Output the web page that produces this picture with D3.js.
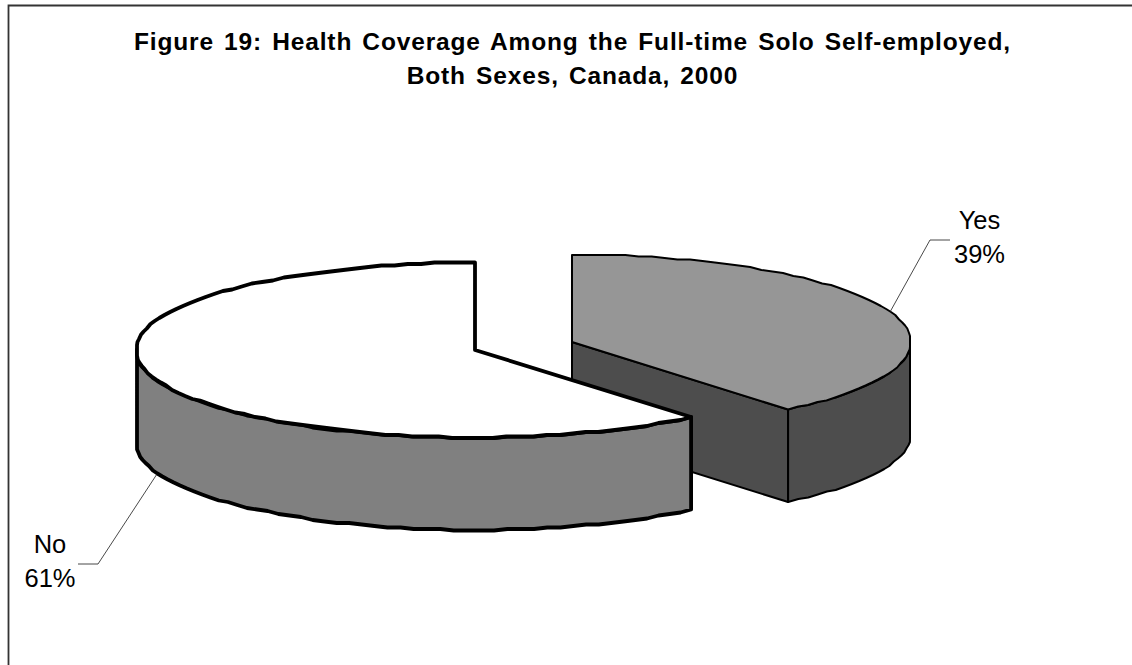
<!DOCTYPE html>
<html>
<head>
<meta charset="utf-8">
<script src="https://cdn.jsdelivr.net/npm/d3@7/dist/d3.min.js"></script>
<style>
  html, body { margin: 0; padding: 0; background: #fff; }
  svg { display: block; }
  text { font-family: "Liberation Sans", Arial, sans-serif; fill: #000; }
</style>
</head>
<body>
<svg id="chart" width="1132" height="665"></svg>
<script>
// Survey shares
const categories = ["Yes", "No"];
const shares = [39, 61];
const titleLines = [
  "Figure 19: Health Coverage Among the Full-time Solo Self-employed,",
  "Both Sexes, Canada, 2000"
];

const width = 1132, height = 665;
const svg = d3.select("#chart");

// Chart frame: only the top and left edges fall inside the page
svg.append("path")
  .attr("d", `M8.5,${height} V5.5 H${width}`)
  .attr("fill", "none").attr("stroke", "#333").attr("stroke-width", 1.8);

svg.selectAll("text.title").data(titleLines).join("text")
  .attr("class", "title")
  .attr("x", 572.5).attr("y", (d, i) => 50 + i * 34)
  .attr("text-anchor", "middle")
  .attr("font-size", 24.5).attr("font-weight", "bold")
  .attr("letter-spacing", 0.85).attr("word-spacing", 2.5)
  .text(d => d);

// Slices run clockwise from twelve o'clock
const pie = d3.pie().sort(null).startAngle(0).endAngle(2 * Math.PI);
const arcs = pie(shares);

// Each slice has its own exploded centre; the tilted disc is projected by two linear scales
const radiusX = 338, radiusY = 87.5, depth = 92.5;
const slices = [
  { centre: [572, 342], top: "#969696", side: "#4d4d4d", weight: 2, innerWall: true },
  { centre: [475, 350], top: "#ffffff", side: "#808080", weight: 3.8, innerWall: false }
];

// The outline is a coarse polyline on a fine grid, flat where the disc turns at its widest
function project(slice) {
  const x = d3.scaleLinear().domain([-0.997, 0.997]).range([slice.centre[0] - radiusX, slice.centre[0] + radiusX]).clamp(true);
  const y = d3.scaleLinear().domain([-1, 1]).range([slice.centre[1] + radiusY, slice.centre[1] - radiusY]);
  const grid = 1.5;
  return a => [x(Math.sin(a)), Math.round(y(Math.cos(a)) / grid) * grid];
}

const line = d3.line();
const samples = (a0, a1, step = 0.04) => {
  const n = Math.max(1, Math.ceil(Math.abs(a1 - a0) / step));
  return d3.range(n + 1).map(i => a0 + (a1 - a0) * i / n);
};

slices.forEach((slice, i) => {
  const arc = arcs[i];
  const at = project(slice);
  const [cx, cy] = slice.centre;
  const down = p => [p[0], p[1] + depth];
  const g = svg.append("g")
    .attr("stroke", "#000").attr("stroke-width", slice.weight)
    .attr("stroke-linejoin", "round");

  // Cut face running from the centre out to the slice's closing edge
  if (slice.innerWall) {
    const edge = at(arc.endAngle);
    g.append("path")
      .attr("d", line([[cx, cy], edge, down(edge), [cx, cy + depth]]) + "Z")
      .attr("fill", slice.side);
  }

  // Outer rim: only the part of the disc facing the viewer
  const from = slice.innerWall ? Math.PI / 2 : arc.startAngle;
  const to = slice.innerWall ? arc.endAngle : 1.5 * Math.PI;
  const rim = samples(from, to).map(at);
  g.append("path")
    .attr("d", line(rim.concat(rim.slice().reverse().map(down))) + "Z")
    .attr("fill", slice.side);

  // Top face
  const top = [[cx, cy]].concat(samples(arc.startAngle, arc.endAngle).map(at));
  g.append("path").attr("d", line(top) + "Z").attr("fill", slice.top);
});

// Leader lines and data labels
const leaders = [
  { path: [[890, 312], [930, 240], [950, 240]], x: 979.5, y: [229, 263] },
  { path: [[157, 474], [98, 564], [78, 564]], x: 50, y: [553, 587] }
];
leaders.forEach((leader, i) => {
  svg.append("path").attr("d", line(leader.path))
    .attr("fill", "none").attr("stroke", "#1a1a1a").attr("stroke-width", 0.8);
  svg.append("g").selectAll("text")
    .data([categories[i], shares[i] + "%"]).join("text")
    .attr("x", leader.x).attr("y", (d, j) => leader.y[j])
    .attr("text-anchor", "middle").attr("font-size", 25.5)
    .text(d => d);
});
</script>
</body>
</html>
